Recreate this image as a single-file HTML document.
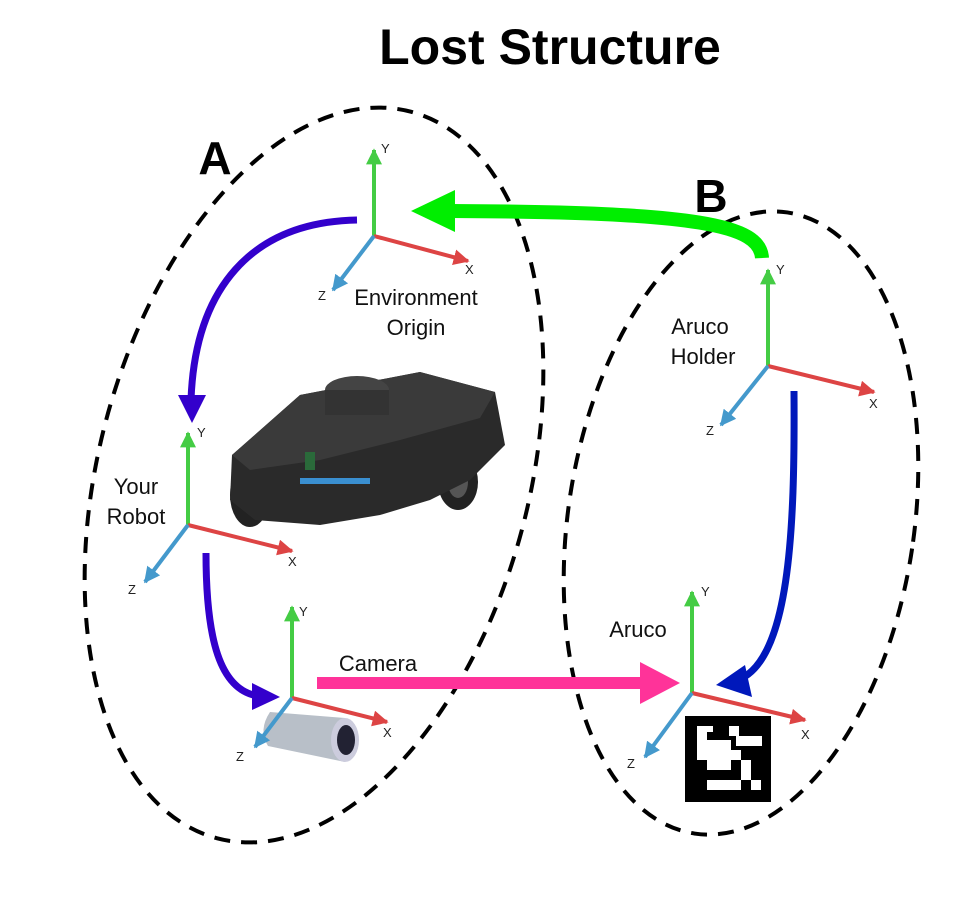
<!DOCTYPE html>
<html><head><meta charset="utf-8"><style>
html,body{margin:0;padding:0;background:#fff;}
svg{display:block;font-family:"Liberation Sans",Arial,sans-serif;}
</style></head><body>
<svg width="966" height="900" viewBox="0 0 966 900" xmlns="http://www.w3.org/2000/svg">
<defs>
<marker id="hg" viewBox="0 0 10 10" refX="9" refY="5" markerWidth="4" markerHeight="4" orient="auto"><path d="M0,0L10,5L0,10z" fill="#44cc44"/></marker>
<marker id="hr" viewBox="0 0 10 10" refX="9" refY="5" markerWidth="4" markerHeight="4" orient="auto"><path d="M0,0L10,5L0,10z" fill="#dd4444"/></marker>
<marker id="hb" viewBox="0 0 10 10" refX="9" refY="5" markerWidth="4" markerHeight="4" orient="auto"><path d="M0,0L10,5L0,10z" fill="#4499cc"/></marker>
</defs>
<text x="550" y="64" font-size="50" font-weight="bold" text-anchor="middle">Lost Structure</text>
<text x="215" y="174" font-size="46" font-weight="bold" text-anchor="middle">A</text>
<text x="711" y="212" font-size="46" font-weight="bold" text-anchor="middle">B</text>

<ellipse cx="314" cy="475" rx="215" ry="376" transform="rotate(15 314 475)" fill="none" stroke="#000" stroke-width="4" stroke-dasharray="16 11"/>
<ellipse cx="741" cy="523" rx="173" ry="314" transform="rotate(8.5 741 523)" fill="none" stroke="#000" stroke-width="4" stroke-dasharray="16 11"/>

<!-- robot -->
<g>
<ellipse cx="250" cy="495" rx="20" ry="32" fill="#222"/>
<ellipse cx="458" cy="482" rx="20" ry="28" fill="#222"/>
<ellipse cx="458" cy="482" rx="10" ry="16" fill="#555"/>
<path d="M232,455 L300,395 L420,372 L495,392 L505,445 L470,480 L430,500 L380,515 L320,525 L255,520 L230,500z" fill="#2a2a2a"/>
<path d="M232,455 L300,395 L420,372 L495,392 L480,418 L400,440 L320,460 L250,470z" fill="#3a3a3a"/>
<ellipse cx="357" cy="390" rx="32" ry="14" fill="#444"/>
<rect x="325" y="390" width="64" height="25" fill="#333"/>
<rect x="305" y="452" width="10" height="18" fill="#2a6a3a"/>
<rect x="300" y="478" width="70" height="6" fill="#3a8fd0"/>
</g>

<!-- camera -->
<g>
<path d="M270,712 L345,718 L345,762 L268,746 Q258,730 270,712z" fill="#b8bfc8"/>
<ellipse cx="345" cy="740" rx="14" ry="22" fill="#ccd"/>
<ellipse cx="346" cy="740" rx="9" ry="15" fill="#223"/>
</g>

<!-- aruco -->
<g>
<rect x="685" y="716" width="86" height="86" fill="#000"/>
<rect x="697" y="726" width="10" height="10" fill="#fff"/>
<rect x="707" y="726" width="6" height="6" fill="#fff"/>
<rect x="697" y="736" width="10" height="14" fill="#fff"/>
<rect x="729" y="726" width="10" height="10" fill="#fff"/>
<rect x="736" y="736" width="26" height="10" fill="#fff"/>
<rect x="707" y="740" width="24" height="30" fill="#fff"/>
<rect x="697" y="750" width="44" height="10" fill="#fff"/>
<rect x="741" y="760" width="10" height="20" fill="#fff"/>
<rect x="707" y="780" width="34" height="10" fill="#fff"/>
<rect x="751" y="780" width="10" height="10" fill="#fff"/>
</g>

<!-- axes -->
<g stroke-width="4" fill="none">
<line x1="374" y1="236" x2="374" y2="150" stroke="#44cc44" marker-end="url(#hg)"/>
<line x1="374" y1="236" x2="468" y2="261" stroke="#dd4444" marker-end="url(#hr)"/>
<line x1="374" y1="236" x2="333" y2="290" stroke="#4499cc" marker-end="url(#hb)"/>
<line x1="188" y1="525" x2="188" y2="433" stroke="#44cc44" marker-end="url(#hg)"/>
<line x1="188" y1="525" x2="292" y2="551" stroke="#dd4444" marker-end="url(#hr)"/>
<line x1="188" y1="525" x2="145" y2="582" stroke="#4499cc" marker-end="url(#hb)"/>
<line x1="292" y1="698" x2="292" y2="607" stroke="#44cc44" marker-end="url(#hg)"/>
<line x1="292" y1="698" x2="387" y2="722" stroke="#dd4444" marker-end="url(#hr)"/>
<line x1="292" y1="698" x2="255" y2="747" stroke="#4499cc" marker-end="url(#hb)"/>
<line x1="692" y1="693" x2="692" y2="592" stroke="#44cc44" marker-end="url(#hg)"/>
<line x1="692" y1="693" x2="805" y2="720" stroke="#dd4444" marker-end="url(#hr)"/>
<line x1="692" y1="693" x2="645" y2="757" stroke="#4499cc" marker-end="url(#hb)"/>
<line x1="768" y1="366" x2="768" y2="270" stroke="#44cc44" marker-end="url(#hg)"/>
<line x1="768" y1="366" x2="874" y2="392" stroke="#dd4444" marker-end="url(#hr)"/>
<line x1="768" y1="366" x2="721" y2="425" stroke="#4499cc" marker-end="url(#hb)"/>
</g>
<g font-size="13" fill="#222">
<text x="381" y="153">Y</text><text x="465" y="274">X</text><text x="318" y="300">Z</text>
<text x="197" y="437">Y</text><text x="288" y="566">X</text><text x="128" y="594">Z</text>
<text x="299" y="616">Y</text><text x="383" y="737">X</text><text x="236" y="761">Z</text>
<text x="701" y="596">Y</text><text x="801" y="739">X</text><text x="627" y="768">Z</text>
<text x="776" y="274">Y</text><text x="869" y="408">X</text><text x="706" y="435">Z</text>
</g>

<!-- arrows -->
<path d="M357,220 C250,222 195,290 191,400" fill="none" stroke="#3300cc" stroke-width="7"/>
<path d="M178,395 L192,423 L206,395z" fill="#3300cc"/>
<path d="M206,553 C206,640 220,690 258,696" fill="none" stroke="#3300cc" stroke-width="7"/>
<path d="M252,683 L280,697 L252,710z" fill="#3300cc"/>
<path d="M762,258 C760,225 700,212 450,211" fill="none" stroke="#00ee00" stroke-width="14"/>
<path d="M455,190 L411,211 L455,232z" fill="#00ee00"/>
<path d="M317,683 L645,683" stroke="#ff3399" stroke-width="12"/>
<path d="M640,662 L680,683 L640,704z" fill="#ff3399"/>
<path d="M794,391 C795,530 790,665 735,681" fill="none" stroke="#0018bb" stroke-width="7"/>
<path d="M745,665 L716,685 L752,697z" fill="#0018bb"/>

<g font-size="22" fill="#111" text-anchor="middle">
<text x="416" y="305">Environment</text><text x="416" y="335">Origin</text>
<text x="136" y="494">Your</text><text x="136" y="524">Robot</text>
<text x="378" y="671">Camera</text>
<text x="638" y="637">Aruco</text>
<text x="700" y="334">Aruco</text><text x="703" y="364">Holder</text>
</g>
</svg>
</body></html>
